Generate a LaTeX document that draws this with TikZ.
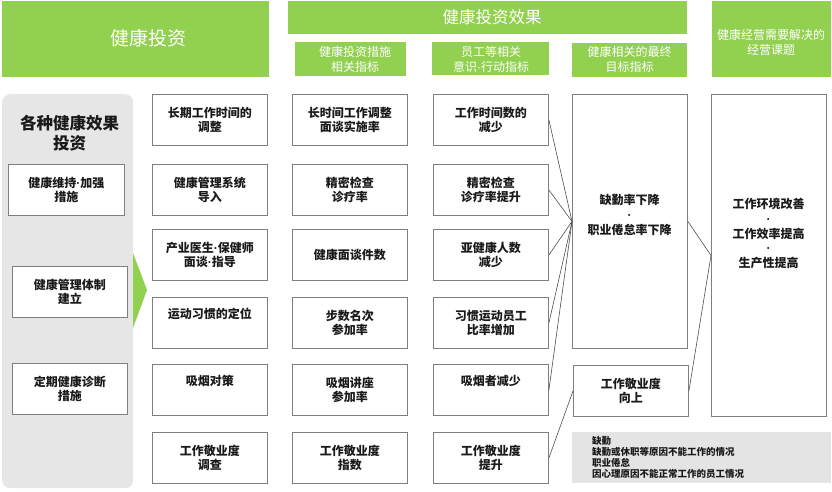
\documentclass[tikz,border=0pt]{standalone}
\usepackage{fontspec}
\setmainfont{Noto Sans CJK SC}
\newfontfamily\latinfont{Liberation Sans}
\newcommand{\mydot}{{\latinfont ·}}
\definecolor{hgreen}{HTML}{92D050}
\definecolor{panelgray}{HTML}{E6E6E6}
\definecolor{notegray}{HTML}{E4E4E4}
\definecolor{bordergray}{HTML}{7F7F7F}
\definecolor{textdark}{HTML}{1A1A1A}
\definecolor{linegray}{HTML}{4D4D4D}
\begin{document}
\begin{tikzpicture}[x=1pt,y=-1pt,
  box/.style={draw=bordergray, line width=0.9pt, fill=white, minimum width=115pt, minimum height=51pt,
    inner sep=0pt, anchor=north west, align=center, text=textdark,
    font=\fontsize{12}{14.5}\selectfont\bfseries},
  hdr/.style={fill=hgreen, draw=none, anchor=north west, inner sep=0pt},
  hdrtxt/.style={text=white, align=center, inner sep=0pt, font=\fontsize{12}{15}\selectfont},
  bigtxt/.style={text=textdark, align=center, inner sep=0pt, font=\fontsize{12}{14.8}\selectfont\bfseries},
  conn/.style={draw=linegray, line width=0.6pt}
]
\useasboundingbox (0,0) rectangle (832,492);

% headers
\node[hdr, minimum width=267pt, minimum height=76pt] (hA) at (2,1) {};
\node[hdrtxt, font=\fontsize{19}{22}\selectfont] (hAt) at (148,38) {健康投资};
\node[hdr, minimum width=399pt, minimum height=33pt] (hB) at (288,1) {};
\node[hdrtxt, font=\fontsize{16.5}{20}\selectfont] (hBt) at (492,17.5) {健康投资效果};
\node[hdr, minimum width=111pt, minimum height=34pt] (s1) at (295,42) {};
\node[hdrtxt] (s1t) at (355,59.5) {健康投资措施\\相关指标};
\node[hdr, minimum width=117pt, minimum height=33pt] (s2) at (432,42) {};
\node[hdrtxt] (s2t) at (491,59.5) {员工等相关\\意识\mydot 行动指标};
\node[hdr, minimum width=115pt, minimum height=34pt] (s3) at (572,43) {};
\node[hdrtxt] (s3t) at (629.5,59.5) {健康相关的最终\\目标指标};
\node[hdr, minimum width=119pt, minimum height=76pt] (hC) at (712,1) {};
\node[hdrtxt] (hCt) at (771,42.5) {健康经营需要解决的\\经营课题};

% left panel
\node[fill=panelgray, rounded corners=8pt, anchor=north west, minimum width=131pt, minimum height=394pt, inner sep=0pt] (panel) at (2,94) {};
\node[bigtxt, font=\fontsize{16.5}{20}\selectfont\bfseries] (panelt) at (69.5,133) {各种健康效果\\投资};
\node[box, minimum width=116pt] (L1) at (8,164) {健康维持\mydot 加强\\措施};
\node[box] (L2) at (12,266) {健康管理体制\\建立};
\node[box] (L3) at (12,363) {定期健康诊断\\措施};
\fill[hgreen] (133,253) -- (147,290) -- (133,328) -- cycle;

% column 1
\node[box] (a1) at (152,94) {长期工作时间的\\调整};
\node[box] (a2) at (152,164) {健康管理系统\\导入};
\node[box] (a3) at (152,229) {产业医生\mydot 保健师\\面谈\mydot 指导};
\node[box] (a4) at (152,297) {运动习惯的定位\\\strut};
\node[box] (a5) at (152,364) {吸烟对策\\\strut};
\node[box] (a6) at (152,432) {工作敬业度\\调查};

% column 2
\node[box] (b1) at (292,94) {长时间工作调整\\面谈实施率};
\node[box] (b2) at (292,164) {精密检查\\诊疗率};
\node[box] (b3) at (292,229) {健康面谈件数};
\node[box] (b4) at (292,297) {步数名次\\参加率};
\node[box] (b5) at (292,364) {吸烟讲座\\参加率};
\node[box] (b6) at (292,432) {工作敬业度\\指数};

% column 3
\node[box] (c1) at (433,94) {工作时间数的\\减少};
\node[box] (c2) at (433,164) {精密检查\\诊疗率提升};
\node[box] (c3) at (433,229) {亚健康人数\\减少};
\node[box] (c4) at (433,297) {习惯运动员工\\比率增加};
\node[box] (c5) at (433,364) {吸烟者减少\\\strut};
\node[box] (c6) at (433,432) {工作敬业度\\提升};

% column 4
\node[box, minimum height=254pt] (d1) at (572,94) {};
\node[bigtxt] (d1t) at (629.5,215) {缺勤率下降\\\mydot\\职业倦怠率下降};
\node[box] (d2) at (573,365) {工作敬业度\\向上};

% column 5
\node[box, minimum height=322pt] (e1) at (711,94) {};
\node[bigtxt] (e1t) at (768.5,233.5) {工作环境改善\\\mydot\\工作效率提高\\\mydot\\生产性提高};

% note
\node[fill=notegray, anchor=north west, minimum width=259pt, minimum height=51pt, inner sep=0pt] (note) at (572,432) {};
\node[anchor=west, align=left, inner sep=0pt, text=textdark, font=\fontsize{9.5}{11}\selectfont\bfseries] (notet) at (592,457.5)
  {缺勤\\缺勤或休职等原因不能工作的情况\\职业倦怠\\因心理原因不能正常工作的员工情况};

% connectors
\draw[conn] (c1.east) -- (d1.west);
\draw[conn] (c2.east) -- (d1.west);
\draw[conn] (c3.east) -- (d1.west);
\draw[conn] (c4.east) -- (d1.west);
\draw[conn] (c5.east) -- (d1.west);
\draw[conn] (c6.east) -- (d2.west);
\draw[conn] (d1.east) -- (e1.west);
\draw[conn] (d2.east) -- (e1.west);
\end{tikzpicture}
\end{document}
